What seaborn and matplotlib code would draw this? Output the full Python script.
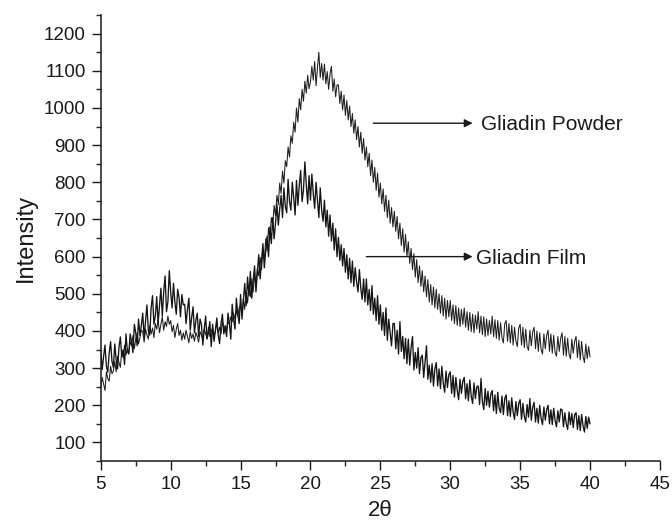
import numpy as np
import pandas as pd
import matplotlib
matplotlib.use("Agg")
import matplotlib.pyplot as plt
import seaborn as sns

# 2-theta sampling grid (degrees)
theta_start, theta_step = 5.0, 0.1

film = [
    348, 296, 331, 362, 305, 289, 340, 371, 318, 302,
    365, 322, 298, 356, 384, 331, 349, 310, 392, 345,
    338, 392, 371, 342, 418, 395, 360, 432, 388, 415,
    448, 382, 425, 470, 401, 389, 462, 495, 418, 440,
    492, 421, 468, 515, 440, 505, 548, 452, 478, 562,
    505, 462, 528, 478, 445, 512, 490, 438, 498, 470,
    472, 420, 458, 488, 402, 436, 465, 395, 428, 448,
    385, 432, 418, 362, 405, 440, 378, 395, 425, 358,
    418, 372, 402, 435, 388, 366, 420, 445, 392, 410,
    385, 448, 420, 378, 472, 432, 405, 488, 445, 420,
    498, 432, 482, 528, 468, 545, 495, 560, 488, 535,
    575, 505, 558, 605, 540, 590, 635, 570, 618, 655,
    600, 680, 635, 705, 648, 690, 740, 685, 728, 765,
    705, 785, 735, 718, 808, 748, 725, 800, 760, 712,
    805, 738, 792, 832, 748, 780, 855, 795, 742, 818,
    752, 822, 770, 730, 800, 752, 705, 785, 725, 695,
    752, 680, 725, 655, 712, 642, 690, 618, 675, 600,
    652, 590, 632, 575, 622, 558, 605, 540, 595, 530,
    588, 520, 570, 532, 505, 565, 515, 485, 540, 478,
    540, 470, 512, 455, 522, 445, 488, 428, 495, 418,
    470, 402, 450, 388, 462, 375, 432, 395, 360, 420,
    420, 352, 402, 338, 425, 345, 385, 325, 380, 312,
    378, 308, 355, 385, 295, 342, 300, 355, 285, 328,
    335, 275, 318, 360, 270, 308, 262, 312, 252, 298,
    315, 252, 298, 245, 305, 260, 235, 292, 248, 282,
    290, 232, 280, 222, 275, 240, 215, 270, 232, 265,
    275, 218, 258, 212, 268, 225, 205, 260, 218, 250,
    252, 202, 272, 210, 188, 245, 200, 238, 195, 230,
    240, 185, 228, 178, 235, 192, 180, 225, 175, 218,
    228, 172, 212, 170, 220, 182, 162, 210, 172, 205,
    215, 162, 205, 170, 155, 202, 168, 218, 160, 195,
    208, 155, 192, 152, 200, 165, 148, 195, 160, 188,
    200, 150, 188, 148, 192, 160, 142, 185, 155, 190,
    188, 142, 180, 150, 135, 182, 148, 178, 140, 175,
    180, 135, 172, 132, 175, 145, 128, 170, 138, 168,
    150,
]

powder = [
    248, 275, 258, 240, 290, 272, 265, 305, 285, 292,
    318, 290, 332, 315, 302, 348, 328, 362, 335, 352,
    340, 372, 360, 388, 352, 378, 395, 365, 382, 402,
    398, 370, 405, 390, 378, 415, 392, 408, 382, 420,
    405, 430, 395, 418, 438, 402, 425, 412, 440, 418,
    428, 398, 415, 382, 405, 420, 388, 402, 375, 395,
    378, 402, 385, 368, 398, 380, 392, 372, 396, 385,
    370, 398, 388, 375, 405, 392, 380, 410, 385, 400,
    408, 385, 400, 422, 395, 410, 392, 425, 405, 415,
    402, 425, 418, 438, 425, 448, 432, 455, 440, 462,
    470, 442, 488, 458, 505, 475, 520, 492, 540, 505,
    552, 520, 568, 548, 598, 565, 622, 590, 648, 615,
    678, 645, 705, 685, 738, 710, 765, 740, 798, 770,
    830, 798, 858, 842, 895, 868, 925, 905, 962, 935,
    1000, 962, 1025, 995, 1050, 1018, 1072, 1040, 1088, 1052,
    1070, 1112, 1075, 1125, 1060, 1108, 1150, 1082, 1120, 1075,
    1118, 1065, 1098, 1050, 1092, 1112, 1045, 1078, 1030, 1062,
    1062, 1012, 1045, 995, 1035, 980, 1020, 968, 1005, 950,
    985, 932, 968, 915, 950, 895, 935, 878, 918, 860,
    895, 842, 878, 818, 860, 800, 840, 778, 825, 760,
    798, 742, 782, 722, 765, 705, 752, 690, 732, 680,
    722, 668, 708, 648, 690, 630, 675, 612, 660, 600,
    640, 582, 622, 565, 608, 545, 592, 530, 575, 520,
    562, 505, 548, 492, 538, 478, 525, 470, 518, 462,
    512, 458, 500, 448, 495, 440, 488, 432, 482, 438,
    482, 428, 470, 420, 468, 415, 462, 412, 458, 418,
    462, 410, 452, 402, 450, 398, 445, 395, 442, 405,
    452, 395, 440, 390, 438, 385, 432, 388, 428, 392,
    440, 385, 430, 380, 428, 375, 422, 382, 368, 420,
    428, 372, 420, 368, 415, 362, 410, 372, 358, 408,
    418, 362, 410, 355, 405, 358, 348, 402, 360, 398,
    410, 352, 400, 345, 395, 350, 338, 392, 352, 388,
    402, 345, 392, 340, 388, 342, 332, 385, 345, 380,
    395, 335, 385, 332, 380, 338, 325, 378, 340, 372,
    385, 328, 375, 322, 372, 332, 315, 365, 325, 358,
    330,
]

labels = ["Gliadin Powder", "Gliadin Film"]
x_ticks = [5, 10, 15, 20, 25, 30, 35, 40, 45]
y_ticks = [100, 200, 300, 400, 500, 600, 700, 800, 900, 1000, 1100, 1200]

theta = np.round(np.arange(len(film)) * theta_step + theta_start, 2)
df_powder = pd.DataFrame({"theta": theta, "intensity": powder})
df_film = pd.DataFrame({"theta": theta, "intensity": film})

sns.set_style("ticks")
plt.rcParams["font.family"] = ["Liberation Sans", "DejaVu Sans"]

fig = plt.figure(figsize=(6.72, 5.29), dpi=100)
ax = fig.add_axes([0.150, 0.1285, 0.832, 0.843])

sns.lineplot(data=df_powder, x="theta", y="intensity", estimator=None, sort=False,
             color="#1e1e1e", lw=0.75, ax=ax)
sns.lineplot(data=df_film, x="theta", y="intensity", estimator=None, sort=False,
             color="#151515", lw=0.95, ax=ax)

ax.set_xlim(5, 45)
ax.set_ylim(50, 1250)
ax.set_xticks(x_ticks)
ax.set_yticks(y_ticks)
ax.set_xticks(np.arange(7.5, 45, 5), minor=True)
ax.set_yticks(np.arange(50, 1251, 100), minor=True)
ax.tick_params(which="major", direction="out", length=6.5, width=1.0,
               labelsize=13.5, colors="#1a1a1a", pad=4.5)
ax.tick_params(which="minor", direction="out", length=3.5, width=1.0)
for s in ["top", "right"]:
    ax.spines[s].set_visible(False)
for s in ["left", "bottom"]:
    ax.spines[s].set_linewidth(1.1)
    ax.spines[s].set_color("#1a1a1a")

ax.set_xlabel("2θ", fontsize=16, labelpad=5, color="#1a1a1a")
ax.set_ylabel("Intensity", fontsize=17, labelpad=5, color="#1a1a1a")

arrow = dict(arrowstyle="-|>", color="#1a1a1a", lw=1.0, mutation_scale=12,
             shrinkA=0, shrinkB=0)
ax.annotate("", xy=(31.6, 959), xytext=(24.5, 959), arrowprops=arrow)
ax.text(32.2, 955, labels[0], fontsize=15, va="center", ha="left", color="#1a1a1a")
ax.annotate("", xy=(31.6, 600), xytext=(24.0, 600), arrowprops=arrow)
ax.text(31.85, 596, labels[1], fontsize=15, va="center", ha="left", color="#1a1a1a")

fig.savefig("out.png", dpi=100)
